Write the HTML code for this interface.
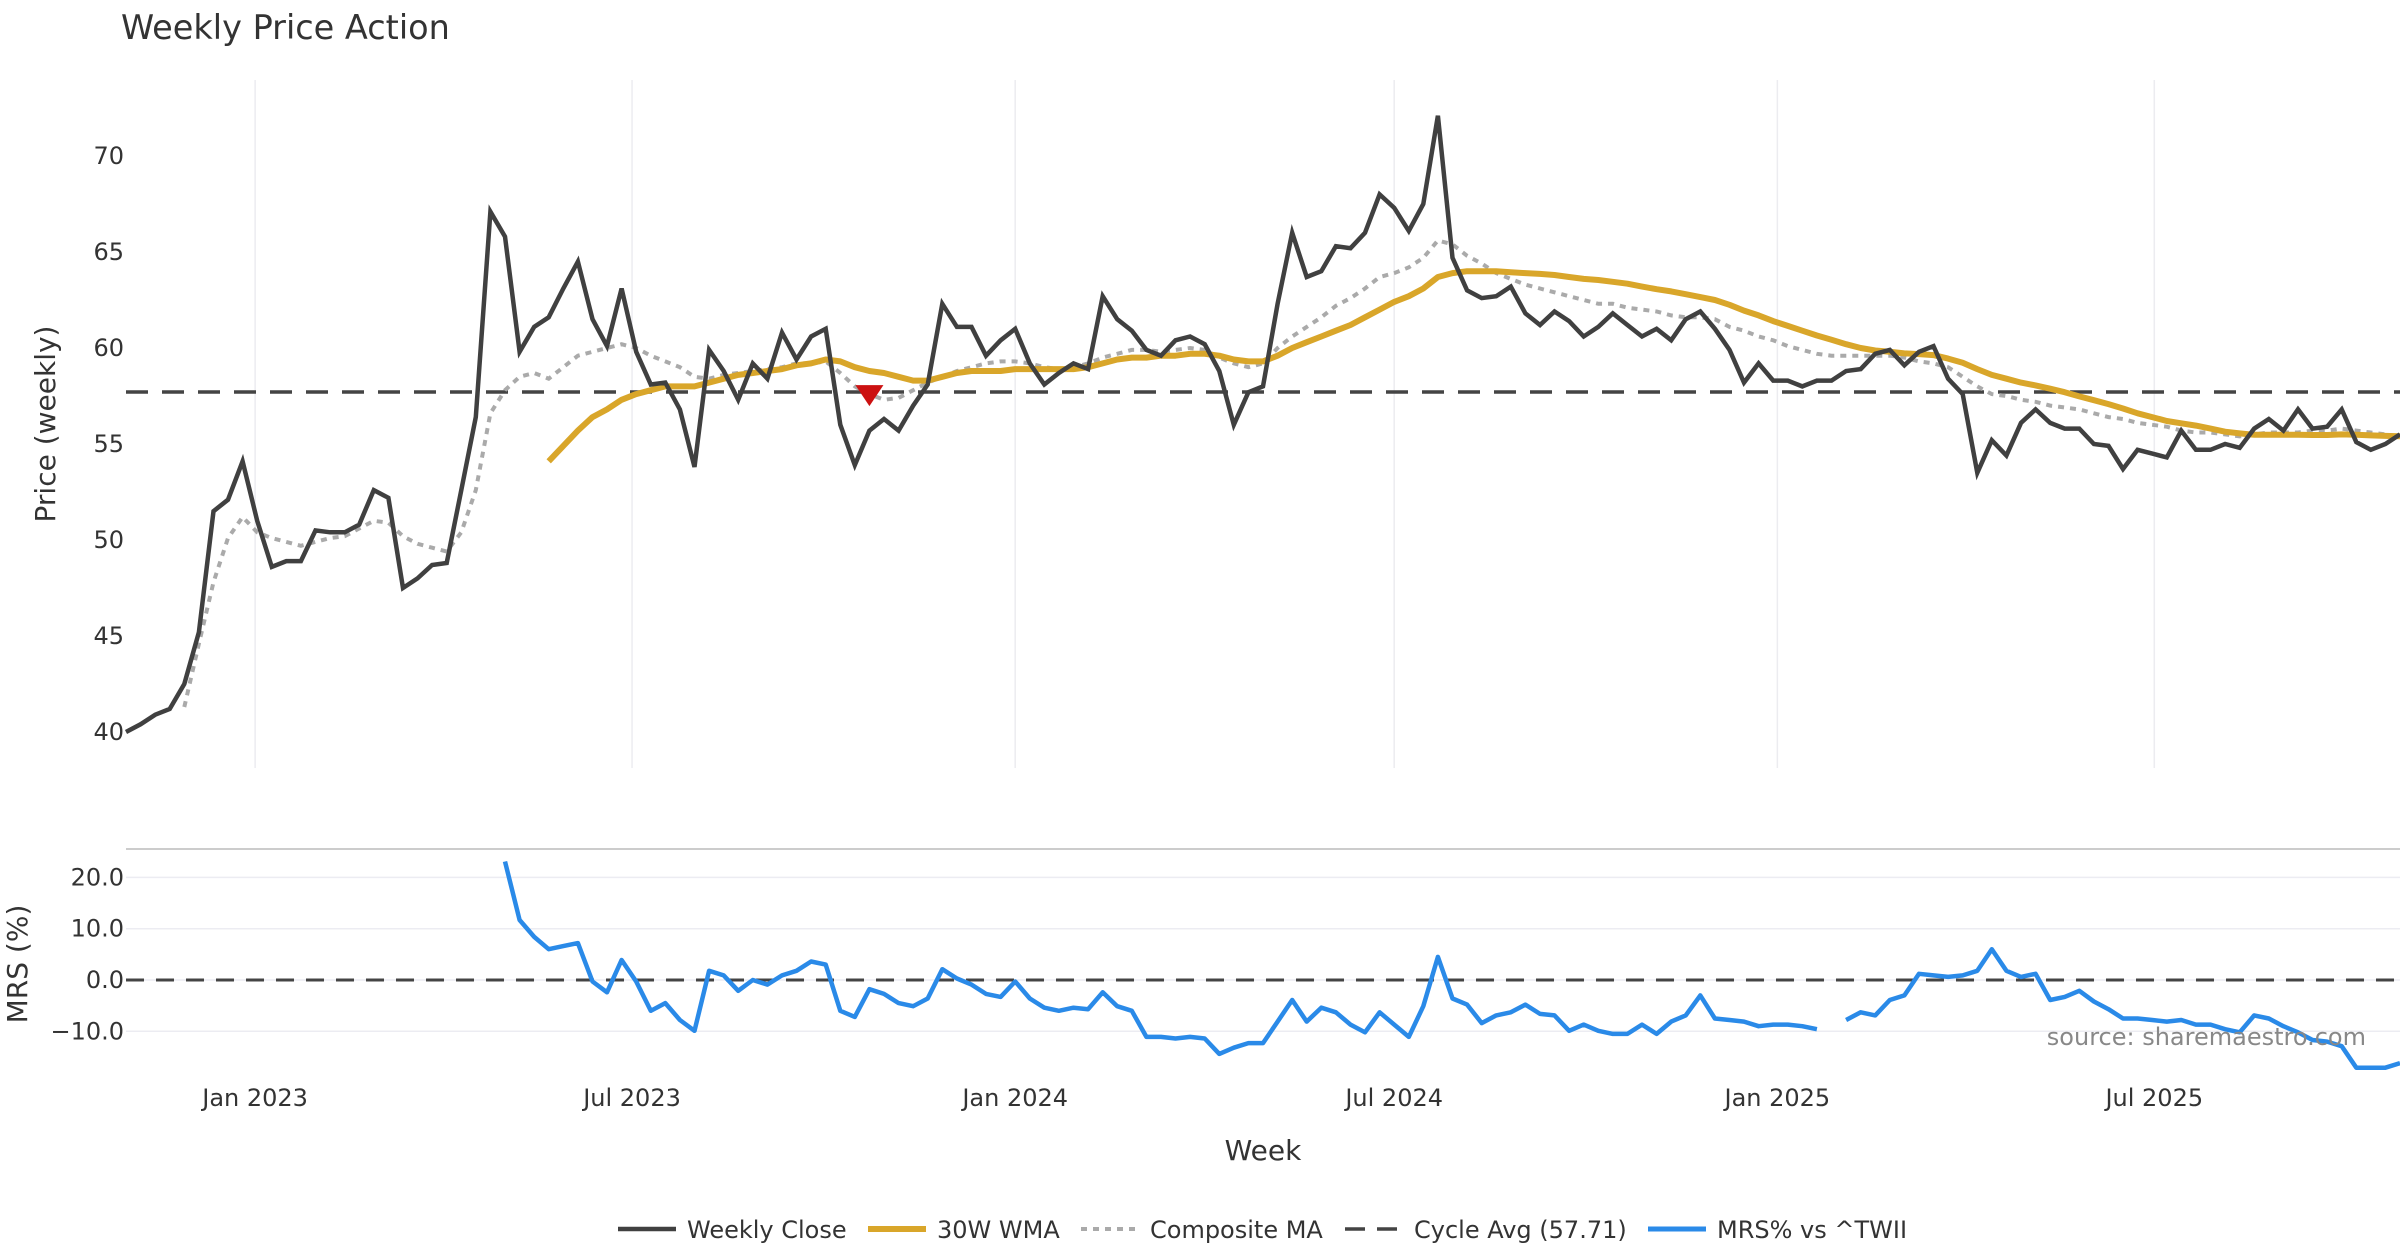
<!DOCTYPE html>
<html><head><meta charset="utf-8"><style>
html,body{margin:0;padding:0;background:#fff;}
svg{display:block;font-family:"DejaVu Sans","Liberation Sans",sans-serif;}
</style></head><body>
<svg id="chart" width="2400" height="1260" viewBox="0 0 2400 1260" xmlns="http://www.w3.org/2000/svg">
<text x="121" y="39" font-size="33.5" fill="#333">Weekly Price Action</text>
<g id="grid"></g>
<g id="series"></g>
<g id="axes"></g>
<text transform="translate(55,424) rotate(-90)" text-anchor="middle" font-size="28" fill="#333">Price (weekly)</text>
<text transform="translate(27,964) rotate(-90)" text-anchor="middle" font-size="28" fill="#333">MRS (%)</text>
<text x="1263" y="1160" text-anchor="middle" font-size="28" fill="#333">Week</text>
<text x="2366" y="1045" text-anchor="end" font-size="24" fill="#888">source: sharemaestro.com</text>
<g id="legend"></g>
</svg>
<script>
const startDate = new Date(2022, 9, 31);
const close = [40.0,40.4,40.9,41.2,42.5,45.2,51.5,52.1,54.1,51.0,48.6,48.9,48.9,50.5,50.4,50.4,50.8,52.6,52.2,47.5,48.0,48.7,48.8,52.6,56.4,67.1,65.8,59.8,61.1,61.6,63.1,64.5,61.5,60.1,63.1,59.8,58.1,58.2,56.8,53.8,59.9,58.8,57.3,59.2,58.4,60.8,59.4,60.6,61.0,56.0,53.9,55.7,56.3,55.7,57.0,58.1,62.3,61.1,61.1,59.6,60.4,61.0,59.2,58.1,58.7,59.2,58.9,62.7,61.5,60.9,59.9,59.6,60.4,60.6,60.2,58.8,56.0,57.7,58.0,62.3,66.0,63.7,64.0,65.3,65.2,66.0,68.0,67.3,66.1,67.5,72.1,64.7,63.0,62.6,62.7,63.2,61.8,61.2,61.9,61.4,60.6,61.1,61.8,61.2,60.6,61.0,60.4,61.5,61.9,61.0,59.9,58.2,59.2,58.3,58.3,58.0,58.3,58.3,58.8,58.9,59.7,59.9,59.1,59.8,60.1,58.4,57.6,53.5,55.2,54.4,56.1,56.8,56.1,55.8,55.8,55.0,54.9,53.7,54.7,54.5,54.3,55.7,54.7,54.7,55.0,54.8,55.8,56.3,55.7,56.8,55.8,55.9,56.8,55.1,54.7,55.0,55.5];
const wmaStart = 29;
const wma = [54.1,54.9,55.7,56.4,56.8,57.3,57.6,57.8,58.0,58.0,58.0,58.2,58.4,58.6,58.7,58.8,58.9,59.1,59.2,59.4,59.3,59.0,58.8,58.7,58.5,58.3,58.3,58.5,58.7,58.8,58.8,58.8,58.9,58.9,58.9,58.9,58.9,59.0,59.2,59.4,59.5,59.5,59.6,59.6,59.7,59.7,59.6,59.4,59.3,59.3,59.6,60.0,60.3,60.6,60.9,61.2,61.6,62.0,62.4,62.7,63.1,63.7,63.9,64.0,64.0,64.0,63.95,63.9,63.86,63.8,63.7,63.6,63.54,63.45,63.35,63.2,63.06,62.95,62.8,62.65,62.5,62.25,61.95,61.7,61.4,61.15,60.9,60.65,60.43,60.2,60.0,59.87,59.8,59.72,59.68,59.63,59.45,59.23,58.9,58.6,58.4,58.2,58.05,57.88,57.7,57.48,57.28,57.08,56.85,56.6,56.4,56.2,56.08,55.96,55.8,55.64,55.55,55.48,55.48,55.48,55.48,55.47,55.47,55.5,55.48,55.45,55.42,55.4];
const compStart = 4;
const composite = [41.3,44.6,47.8,50.1,51.2,50.4,50.1,49.9,49.7,49.9,50.1,50.2,50.6,51.0,50.9,50.2,49.8,49.6,49.4,50.4,52.6,56.6,57.8,58.5,58.7,58.4,59.0,59.6,59.8,60.0,60.2,60.0,59.6,59.3,59.0,58.5,58.4,58.6,58.7,58.8,58.9,59.0,59.2,59.2,59.3,58.7,58.0,57.6,57.3,57.4,57.8,58.2,58.5,58.8,59.0,59.2,59.3,59.3,59.2,59.0,58.9,59.0,59.2,59.5,59.7,59.9,59.9,59.8,59.9,60.0,59.9,59.5,59.2,59.0,59.2,60.0,60.6,61.1,61.6,62.2,62.6,63.1,63.7,63.9,64.2,64.7,65.6,65.4,64.8,64.4,63.9,63.6,63.3,63.1,62.9,62.7,62.5,62.3,62.3,62.1,62.0,61.9,61.7,61.6,61.6,61.5,61.1,60.9,60.6,60.4,60.1,59.9,59.7,59.6,59.6,59.6,59.6,59.6,59.5,59.3,59.2,59.0,58.5,58.0,57.6,57.5,57.3,57.2,57.0,56.9,56.8,56.6,56.4,56.3,56.1,56.0,55.9,55.7,55.6,55.6,55.5,55.4,55.5,55.6,55.6,55.6,55.7,55.7,55.8,55.7,55.6,55.5,55.4];
const mrsStart = 26;
const mrs = [23.1,11.7,8.4,6.0,6.6,7.2,-0.3,-2.4,3.9,-0.3,-6.0,-4.5,-7.8,-9.9,1.8,0.9,-2.1,0.0,-0.9,0.9,1.8,3.6,3.0,-6.0,-7.2,-1.8,-2.7,-4.5,-5.1,-3.6,2.1,0.3,-0.9,-2.7,-3.3,-0.3,-3.6,-5.4,-6.0,-5.4,-5.7,-2.4,-5.1,-6.0,-11.1,-11.1,-11.4,-11.1,-11.4,-14.4,-13.2,-12.3,-12.3,-8.1,-3.9,-8.1,-5.4,-6.3,-8.7,-10.2,-6.3,-8.7,-11.1,-5.1,4.5,-3.6,-4.8,-8.4,-6.9,-6.3,-4.8,-6.6,-6.9,-9.9,-8.7,-9.9,-10.5,-10.5,-8.7,-10.5,-8.1,-6.9,-3.0,-7.5,-7.8,-8.1,-9.0,-8.7,-8.7,-9.0,-9.6,null,-7.8,-6.3,-6.9,-3.9,-3.0,1.2,0.9,0.6,0.9,1.8,6.0,1.8,0.6,1.2,-3.9,-3.3,-2.1,-4.2,-5.7,-7.5,-7.5,-7.8,-8.1,-7.8,-8.7,-8.7,-9.6,-10.2,-6.9,-7.5,-9.0,-10.2,-11.7,-12.0,-12.9,-17.1,-17.1,-17.1,-16.2];
const cycleAvg = 57.71;
const signalIndex = 51;
const signalValue = 57.6;
const priceTicks = [40,45,50,55,60,65,70];
const mrsTicks = [20,10,0,-10];
const mrsTickLabels = ["20.0","10.0","0.0","\u221210.0"];
const dateTicks = [[2023,0,"Jan 2023"],[2023,6,"Jul 2023"],[2024,0,"Jan 2024"],[2024,6,"Jul 2024"],[2025,0,"Jan 2025"],[2025,6,"Jul 2025"]];

const NS="http://www.w3.org/2000/svg";
const X0=126, STEP=(2400-126)/156;
const xi = i => X0 + i*STEP;
const yp = v => 732 - (v-40)*19.2;
const ym = v => 980 - v*5.13;
const xd = d => xi((d - startDate)/(7*86400000));
function el(tag, attrs, parent){const e=document.createElementNS(NS,tag);for(const k in attrs)e.setAttribute(k,attrs[k]);parent.appendChild(e);return e;}
const grid=document.getElementById('grid'), series=document.getElementById('series'), axes=document.getElementById('axes'), legend=document.getElementById('legend');

dateTicks.forEach(t=>{
  const x=xd(new Date(t[0],t[1],1));
  const g=el('line',{x1:x,x2:x,y1:80,y2:768,stroke:'#ececf0','stroke-width':1.5},grid);
  
  
  const lb=el('text',{x:x,y:1106,'text-anchor':'middle','font-size':24,fill:'#333'},axes);
  lb.textContent=t[2];
  
  
});
priceTicks.forEach(v=>{
  const lb=el('text',{x:124,y:yp(v)+8,'text-anchor':'end','font-size':24,fill:'#333'},axes);
  lb.textContent=v;
  
  
});
const sep=el('line',{x1:126,x2:2400,y1:849,y2:849,stroke:'#cccccc','stroke-width':2},grid);


mrsTicks.forEach((v,k)=>{
  const g=el('line',{x1:126,x2:2400,y1:ym(v),y2:ym(v),stroke:'#ececf2','stroke-width':1.5},grid);
  
  
  const lb=el('text',{x:124,y:ym(v)+8,'text-anchor':'end','font-size':24,fill:'#333'},axes);
  lb.textContent=mrsTickLabels[k];
  
  
});

function pathFrom(arr,start,yf){
  let d='',pen=false;
  arr.forEach((v,k)=>{
    if(v===null){pen=false;return;}
    d+=(pen?'L':'M')+xi(start+k).toFixed(1)+','+yf(v).toFixed(1);pen=true;
  });
  return d;
}
const ca=el('line',{x1:126,x2:2400,y1:yp(cycleAvg),y2:yp(cycleAvg),stroke:'#444','stroke-width':3.5,'stroke-dasharray':'22,14'},series);


const zl=el('line',{x1:126,x2:2400,y1:ym(0),y2:ym(0),stroke:'#444','stroke-width':3,'stroke-dasharray':'18,12'},series);


const cp=el('path',{d:pathFrom(composite,compStart,yp),fill:'none',stroke:'#aaaaaa','stroke-width':4,'stroke-dasharray':'6,6'},series);


const wp=el('path',{d:pathFrom(wma,wmaStart,yp),fill:'none',stroke:'#d9a62a','stroke-width':6,'stroke-linejoin':'round'},series);


const clp=el('path',{d:pathFrom(close,0,yp),fill:'none',stroke:'#404040','stroke-width':4.5,'stroke-linejoin':'miter'},series);


const mp=el('path',{d:pathFrom(mrs,mrsStart,ym),fill:'none',stroke:'#2a8ae8','stroke-width':4.5,'stroke-linejoin':'round'},series);


const sx=xi(signalIndex), sy=yp(signalValue);
const sg=el('polygon',{points:`${sx-14},${sy-9} ${sx+14},${sy-9} ${sx},${sy+12}`,fill:'#cc1111'},series);



const leg=[[618,'Weekly Close','#404040',4.5,null],[868,'30W WMA','#d9a62a',6,null],[1081,'Composite MA','#aaaaaa',4,'6,6'],[1345,'Cycle Avg (57.71)','#444',3.5,'20,12'],[1648,'MRS% vs ^TWII','#2a8ae8',5,null]];
leg.forEach(l=>{
  const a={x1:l[0],x2:l[0]+58,y1:1229,y2:1229,stroke:l[2],'stroke-width':l[3]};
  if(l[4])a['stroke-dasharray']=l[4];
  const ln=el('line',a,legend);
  
  
  const t=el('text',{x:l[0]+69,y:1238,'font-size':24,fill:'#333'},legend);
  t.textContent=l[1];
  
  
});
</script>
</body></html>
